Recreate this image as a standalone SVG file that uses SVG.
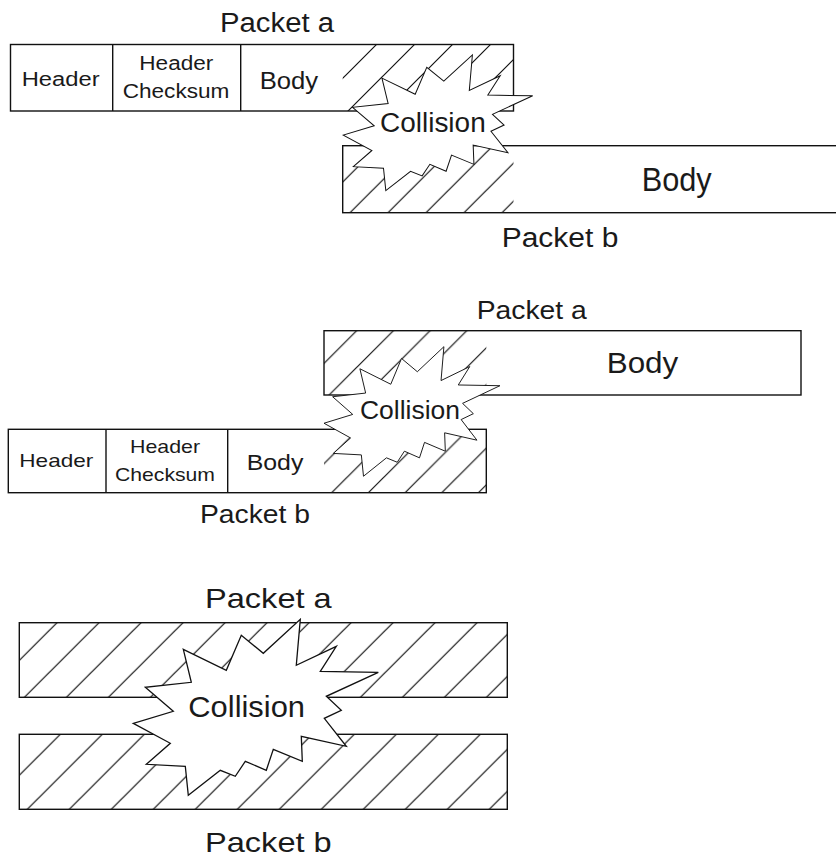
<svg xmlns="http://www.w3.org/2000/svg" width="836" height="859" viewBox="0 0 836 859">
  <style>
    .box { fill: #ffffff; stroke: #111111; stroke-width: 1.4; }
    .hatch-fill { stroke: none; }
    .div { stroke: #111111; stroke-width: 1.4; }
    .burst { fill: #ffffff; stroke: #111111; stroke-width: 1.3; stroke-linejoin: miter; vector-effect: non-scaling-stroke; }
    text { font-family: "Liberation Sans", Arial, Helvetica, sans-serif; fill: #1a1a1a; }
  </style>
  <defs>
    <!-- diagonal hatching, one tile per panel scale and phase -->
    <pattern id="h1a" width="38" height="38" x="3" y="0" patternUnits="userSpaceOnUse">
      <path d="M-2,2 L2,-2 M0,38 L38,0 M36,40 L40,36" stroke="#111" stroke-width="1.2"/>
    </pattern>
    <pattern id="h1b" width="38" height="38" x="30.7" y="0" patternUnits="userSpaceOnUse">
      <path d="M-2,2 L2,-2 M0,38 L38,0 M36,40 L40,36" stroke="#111" stroke-width="1.2"/>
    </pattern>
    <pattern id="h2a" width="36.7" height="36.7" x="26.8" y="0" patternUnits="userSpaceOnUse">
      <path d="M-2,2 L2,-2 M0,36.7 L36.7,0 M34.7,38.7 L38.7,34.7" stroke="#111" stroke-width="1.2"/>
    </pattern>
    <pattern id="h2b" width="36.7" height="36.7" x="17" y="0" patternUnits="userSpaceOnUse">
      <path d="M-2,2 L2,-2 M0,36.7 L36.7,0 M34.7,38.7 L38.7,34.7" stroke="#111" stroke-width="1.2"/>
    </pattern>
    <pattern id="h3a" width="42" height="42" x="7.7" y="0" patternUnits="userSpaceOnUse">
      <path d="M-2,2 L2,-2 M0,42 L42,0 M40,44 L44,40" stroke="#111" stroke-width="1.2"/>
    </pattern>
    <pattern id="h3b" width="42" height="42" x="38.6" y="0" patternUnits="userSpaceOnUse">
      <path d="M-2,2 L2,-2 M0,42 L42,0 M40,44 L44,40" stroke="#111" stroke-width="1.2"/>
    </pattern>
    <!-- collision burst outline, drawn at full size and scaled per panel -->
    <path id="burst" d="M50,30 L93,51 L108,16 L130,34 L167,0 L163,46 L203,27 L187,52 L245,53 L193,77 L208,91 L191,99 L213,127 L168,117 L169,142 L140,130 L133,151 L112,142 L102,157 L87,151 L55,176 L52,147 L13,145 L37,124 L0,104 L40,92 L12,68 L58,63 Z"/>
  </defs>

  <rect width="836" height="859" fill="#ffffff"/>

  <!-- ===== Panel 1: packet a header reaches the air first ===== -->
  <g id="p1-packet-a">
    <rect class="box" x="10.5" y="44.5" width="503" height="66.5"/>
    <rect class="hatch-fill" x="342.7" y="44.5" width="170.8" height="66.5" fill="url(#h1a)"/>
    <line class="div" x1="112.7" y1="44.5" x2="112.7" y2="111"/>
    <line class="div" x1="240.7" y1="44.5" x2="240.7" y2="111"/>
    <text x="21.7" y="86" font-size="20" textLength="78" lengthAdjust="spacingAndGlyphs">Header</text>
    <text x="139.3" y="70.3" font-size="20" textLength="74" lengthAdjust="spacingAndGlyphs">Header</text>
    <text x="122.7" y="97.7" font-size="20" textLength="106.7" lengthAdjust="spacingAndGlyphs">Checksum</text>
    <text x="259.7" y="88.7" font-size="23" textLength="58.5" lengthAdjust="spacingAndGlyphs">Body</text>
    <text x="220" y="32.3" font-size="27" textLength="114" lengthAdjust="spacingAndGlyphs">Packet a</text>
  </g>
  <g id="p1-packet-b">
    <rect class="box" x="342.7" y="145.7" width="520" height="67"/>
    <rect class="hatch-fill" x="342.7" y="145.7" width="170.8" height="67" fill="url(#h1b)"/>
    <text x="641.7" y="191" font-size="33" textLength="70" lengthAdjust="spacingAndGlyphs">Body</text>
    <text x="501.7" y="246.7" font-size="27" textLength="116.7" lengthAdjust="spacingAndGlyphs">Packet b</text>
  </g>
  <g id="p1-collision">
    <use href="#burst" class="burst" transform="translate(343.3,55) scale(0.773,0.77)"/>
    <text x="380" y="131.7" font-size="27" textLength="105.7" lengthAdjust="spacingAndGlyphs">Collision</text>
  </g>

  <!-- ===== Panel 2: packet b header reaches the air first ===== -->
  <g id="p2-packet-a">
    <rect class="box" x="324" y="330.7" width="477" height="64.3"/>
    <rect class="hatch-fill" x="324" y="330.7" width="162.3" height="64.3" fill="url(#h2a)"/>
    <text x="606.7" y="373.3" font-size="29" textLength="71.6" lengthAdjust="spacingAndGlyphs">Body</text>
    <text x="476.7" y="319.3" font-size="25" textLength="110" lengthAdjust="spacingAndGlyphs">Packet a</text>
  </g>
  <g id="p2-packet-b">
    <rect class="box" x="8.3" y="429.3" width="478" height="63.4"/>
    <rect class="hatch-fill" x="324" y="429.3" width="162.3" height="63.4" fill="url(#h2b)"/>
    <line class="div" x1="106" y1="429.3" x2="106" y2="492.7"/>
    <line class="div" x1="227.7" y1="429.3" x2="227.7" y2="492.7"/>
    <text x="19.3" y="466.7" font-size="19" textLength="74" lengthAdjust="spacingAndGlyphs">Header</text>
    <text x="130" y="453.3" font-size="19" textLength="70" lengthAdjust="spacingAndGlyphs">Header</text>
    <text x="115" y="481" font-size="19" textLength="100" lengthAdjust="spacingAndGlyphs">Checksum</text>
    <text x="246.7" y="470" font-size="22" textLength="56.7" lengthAdjust="spacingAndGlyphs">Body</text>
    <text x="200" y="523.3" font-size="25" textLength="110" lengthAdjust="spacingAndGlyphs">Packet b</text>
  </g>
  <g id="p2-collision">
    <use href="#burst" class="burst" transform="translate(324,346.7) scale(0.718,0.736)"/>
    <text x="360" y="419.3" font-size="25" textLength="100" lengthAdjust="spacingAndGlyphs">Collision</text>
  </g>

  <!-- ===== Panel 3: both packets lost entirely ===== -->
  <g id="p3-packet-a">
    <rect class="box" x="19.3" y="622.7" width="488" height="74.6"/>
    <rect class="hatch-fill" x="19.3" y="622.7" width="488" height="74.6" fill="url(#h3a)"/>
    <text x="205" y="608.3" font-size="28" textLength="126.7" lengthAdjust="spacingAndGlyphs">Packet a</text>
  </g>
  <g id="p3-packet-b">
    <rect class="box" x="19.3" y="734.3" width="488" height="75"/>
    <rect class="hatch-fill" x="19.3" y="734.3" width="488" height="75" fill="url(#h3b)"/>
    <text x="205" y="851.7" font-size="28" textLength="126.7" lengthAdjust="spacingAndGlyphs">Packet b</text>
  </g>
  <g id="p3-collision">
    <use href="#burst" class="burst" transform="translate(133.3,619.3)"/>
    <text x="188.3" y="717.3" font-size="30" textLength="116.7" lengthAdjust="spacingAndGlyphs">Collision</text>
  </g>
</svg>
